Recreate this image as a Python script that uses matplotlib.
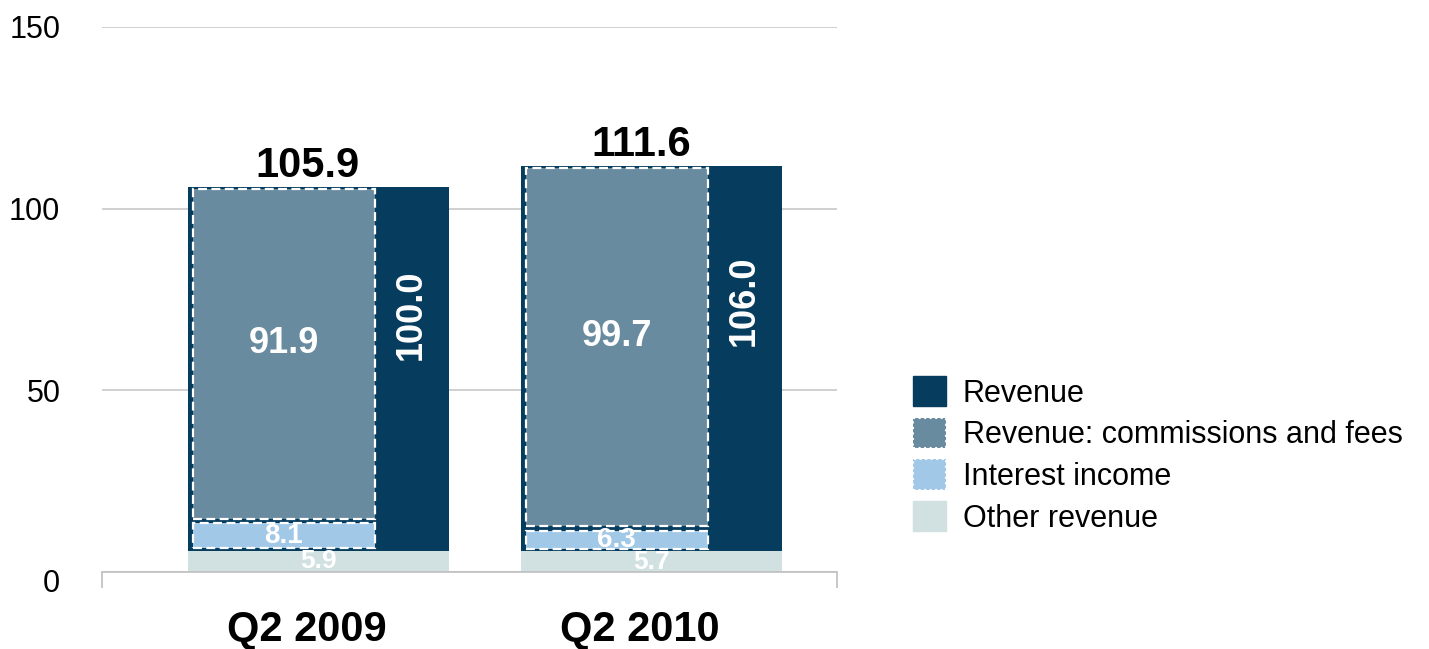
import numpy as np
import matplotlib
matplotlib.use('Agg')
import matplotlib.pyplot as plt
import matplotlib.transforms as mtransforms
from matplotlib.patches import Patch

plt.rcParams['font.family'] = ['Liberation Sans', 'DejaVu Sans']

# ---- data ----
categories = ['Q2 2009', 'Q2 2010']
total_labels = ['105.9', '111.6']
revenue = [100.0, 106.0]
commissions = [91.9, 99.7]
interest = [8.1, 6.3]
other = [5.9, 5.7]
y_ticks = [0, 50, 100, 150]
legend_labels = ['Revenue', 'Revenue: commissions and fees', 'Interest income', 'Other revenue']

# ---- style ----
DARK = '#063C5E'
COMM = '#698B9F'
INT = '#A2C8E7'
OTH = '#D1E0E0'
GRID = '#C8C8C8'

W, H = 1429, 649
fig = plt.figure(figsize=(W / 100, H / 100), dpi=100)
y0_px, y150_px = 572, 27
ax = fig.add_axes([102 / W, 1 - y0_px / H, 735 / W, (y0_px - y150_px) / H])

x = np.arange(len(categories))
other_a = np.array(other)
rev_a = np.array(revenue)
com_a = np.array(commissions)
int_a = np.array(interest)

BW = 0.781          # bar width
IW = 0.70 * BW      # inner box width
pad = 0.6           # vertical inset of inner boxes (data units)
bx = x - BW / 2 + 0.013
dash = (0, (4, 2))
lab_shift = -0.032

ax.bar(x, other_a, BW, color=OTH, zorder=2)
ax.bar(x, rev_a, BW, bottom=other_a, color=DARK, zorder=2)
ax.bar(bx, int_a - 2 * pad, IW, bottom=other_a + pad, align='edge', color=INT,
       edgecolor='white', linewidth=1.6, linestyle=dash, zorder=3)
ax.bar(bx, com_a - 2 * pad, IW, bottom=other_a + int_a + pad, align='edge', color=COMM,
       edgecolor='white', linewidth=1.6, linestyle=dash, zorder=3)

for i in range(len(categories)):
    cx_in = bx[i] + IW / 2
    ax.text(cx_in, other_a[i] + int_a[i] + com_a[i] / 2 + 3, f'{com_a[i]:.1f}', color='white',
            fontsize=26, fontweight='bold', ha='center', va='center', zorder=5)
    ax.text(cx_in, other_a[i] + int_a[i] / 2, f'{int_a[i]:.1f}', color='white',
            fontsize=20, fontweight='bold', ha='center', va='center', zorder=5)
    ax.text(x[i], other_a[i] / 2, f'{other_a[i]:.1f}', color='white',
            fontsize=19, fontweight='bold', ha='center', va='center', zorder=5)
    strip_cx = (bx[i] + IW + x[i] + BW / 2) / 2
    ax.text(strip_cx, other_a[i] + 0.65 * rev_a[i], f'{rev_a[i]:.1f}', color='white',
            fontsize=26, fontweight='bold', ha='center', va='center', rotation=90, zorder=5)
    ax.annotate(total_labels[i], (x[i] + lab_shift, other_a[i] + rev_a[i]), xytext=(0, 1),
                textcoords='offset points', ha='center', va='bottom',
                fontsize=30, fontweight='bold', color='black')

# axes styling
ax.set_ylim(0, 150)
ax.set_yticks(y_ticks)
ax.tick_params(axis='y', length=0, pad=30, labelsize=22)
ax.yaxis.grid(True, color=GRID, linewidth=1.2)
ax.set_axisbelow(True)
for s in ['left', 'top', 'right']:
    ax.spines[s].set_visible(False)
ax.spines['bottom'].set_color('#BFBFBF')
ax.spines['bottom'].set_linewidth(1.2)
ax.spines['bottom'].set_zorder(4)

# nudge the "0" label slightly below the axis, as in the reference
lab0 = ax.get_yticklabels()[0]
lab0.set_transform(lab0.get_transform() + mtransforms.ScaledTranslation(0, -8 / 100, fig.dpi_scale_trans))

xl = (-0.65, 1.557)
ax.set_xlim(*xl)
ax.set_xticks(list(xl))
ax.set_xticklabels(['', ''])
ax.tick_params(axis='x', which='major', length=11.5, color='#BFBFBF', width=1.2, direction='out')
ax.set_xticks(x - 0.035, minor=True)
ax.set_xticklabels(categories, minor=True, fontsize=30, fontweight='bold')
ax.tick_params(axis='x', which='minor', length=0, pad=27)

handles = [
    Patch(facecolor=DARK, edgecolor=DARK),
    Patch(facecolor=COMM, edgecolor='white', linestyle=':', linewidth=1.5),
    Patch(facecolor=INT, edgecolor='white', linestyle=':', linewidth=1.5),
    Patch(facecolor=OTH, edgecolor=OTH),
]
fig.legend(handles, legend_labels, loc='upper left', bbox_to_anchor=(913 / W, 1 - 376 / H),
           frameon=False, fontsize=22, handlelength=1.08, handleheight=1.15,
           handletextpad=0.55, labelspacing=0.3, borderpad=0, borderaxespad=0)

fig.savefig('out.png', dpi=100, facecolor='white')
